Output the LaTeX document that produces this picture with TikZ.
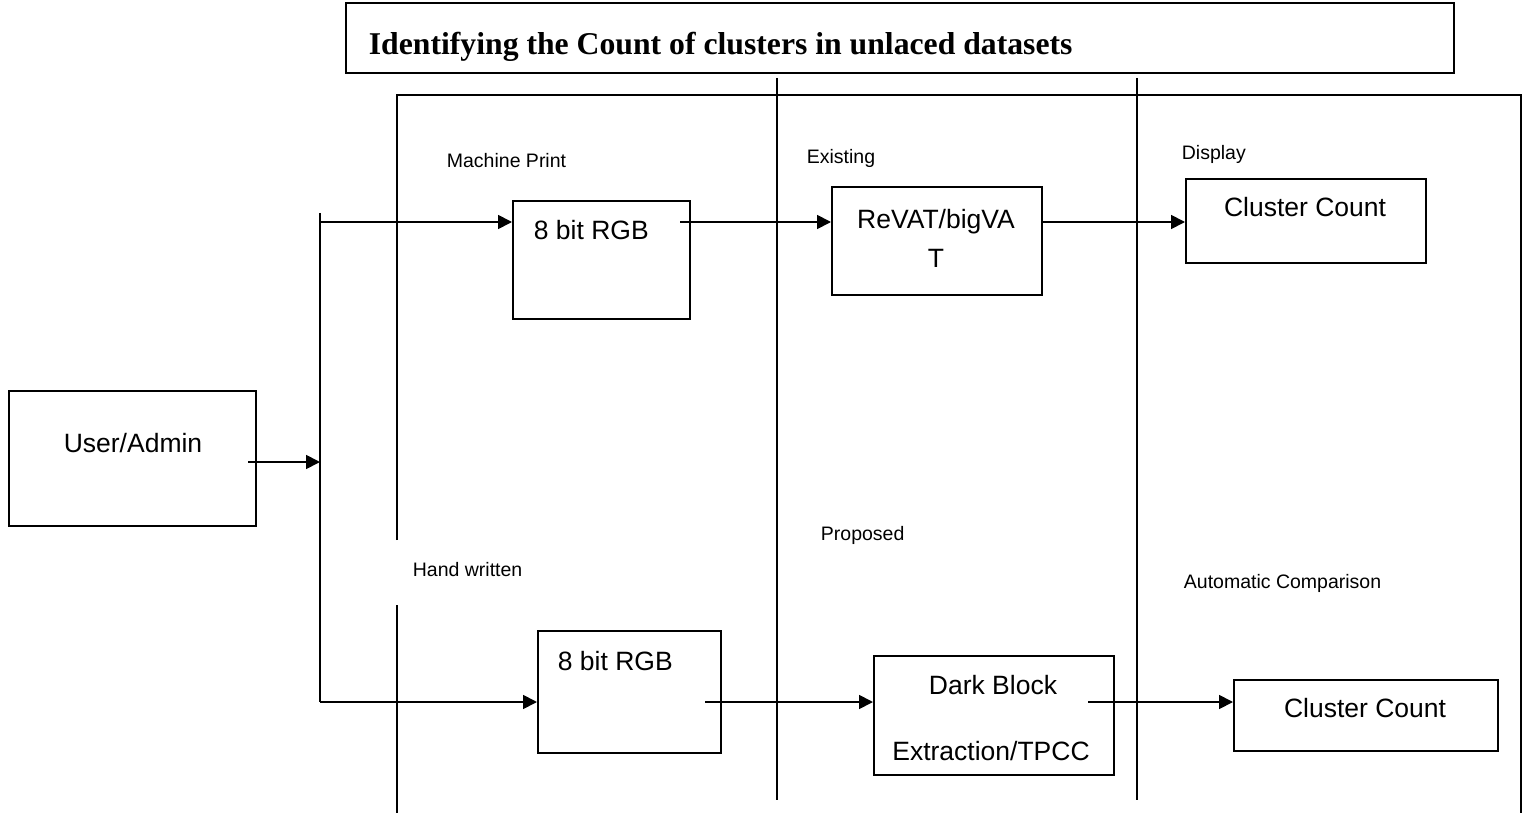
\documentclass[tikz,border=0pt]{standalone}
\usepackage{fontspec}
\setmainfont{Liberation Sans}
\newfontfamily\titlefont{Liberation Serif}
\usetikzlibrary{arrows.meta}
\begin{document}
\begin{tikzpicture}[x=1pt,y=-1pt,line width=1.8pt,
  box/.style={draw,line width=1.8pt,inner sep=0pt,anchor=north west},
  big/.style={font=\fontsize{26.5}{31}\selectfont,inner sep=0pt},
  small/.style={font=\fontsize{19.5}{23}\selectfont,inner sep=0pt,anchor=base west},
  arr/.style={-{Triangle[length=14pt,width=14pt]},line width=1.8pt}]
\useasboundingbox (0,0) rectangle (1528,813);
% title
\node[box,minimum width=1108pt,minimum height=70pt] (title) at (345,2) {};
\node[anchor=base west,inner sep=0pt,font=\titlefont\bfseries\fontsize{31.7}{36}\selectfont] (titletext) at (368,55) {Identifying the Count of clusters in unlaced datasets};
% frame and lanes
\draw (397,540) -- (397,95) -- (1521,95) -- (1521,813);
\draw (397,605) -- (397,813);
\draw (777,78) -- (777,800);
\draw (1137,78) -- (1137,800);
% boxes
\node[box,minimum width=247pt,minimum height=135pt] (user) at (8,390) {};
\node[box,minimum width=177pt,minimum height=118pt] (rgb1) at (512,200) {};
\node[box,minimum width=210pt,minimum height=108pt] (revat) at (831,186) {};
\node[box,minimum width=240pt,minimum height=84pt] (cc1) at (1185,178) {};
\node[box,minimum width=183pt,minimum height=122pt] (rgb2) at (537,630) {};
\node[box,minimum width=240pt,minimum height=119pt] (dark) at (873,655) {};
\node[box,minimum width=264pt,minimum height=71pt] (cc2) at (1233,679) {};
% box texts
\node[big,anchor=base] (usert) at (133,452) {User/Admin};
\node[big,anchor=base west] (rgb1t) at (533,239) {8 bit RGB};
\node[big,anchor=base] (revatt1) at (936,228) {ReVAT/bigVA};
\node[big,anchor=base] (revatt2) at (936,267) {T};
\node[big,anchor=base] (cc1t) at (1305,217) {Cluster Count};
\node[big,anchor=base west] (rgb2t) at (557,670) {8 bit RGB};
\node[big,anchor=base] (darkt1) at (993,694) {Dark Block};
\node[big,anchor=base] (darkt2) at (991,760) {Extraction/TPCC};
\node[big,anchor=base] (cc2t) at (1365,717) {Cluster Count};
% small labels
\node[small] (lmp) at (446,168) {Machine Print};
\node[small] (lex) at (806,164) {Existing};
\node[small] (ldi) at (1181,160) {Display};
\node[small] (lpr) at (820,540) {Proposed};
\node[small] (lhw) at (412,576) {Hand written};
\node[small] (lac) at (1183,588) {Automatic Comparison};
% connectors
\coordinate (u0) at (248,462);
\coordinate (j0) at (320,462);
\coordinate (bustop) at (320,213);
\coordinate (t1) at (320,222);
\coordinate (b0) at (320,702);
\coordinate (a1) at (680,222);
\coordinate (b1) at (705,702);
\coordinate (b2) at (1088,702);
\draw[arr] (u0) -- (j0);
\draw (bustop) -- (b0);
\draw[arr] (t1) -- (t1 -| rgb1.west);
\draw[arr] (a1) -- (a1 -| revat.west);
\draw[arr] (a1 -| revat.east) -- (a1 -| cc1.west);
\draw[arr] (b0) -- (b0 -| rgb2.west);
\draw[arr] (b1) -- (b1 -| dark.west);
\draw[arr] (b2) -- (b2 -| cc2.west);
\end{tikzpicture}
\end{document}
